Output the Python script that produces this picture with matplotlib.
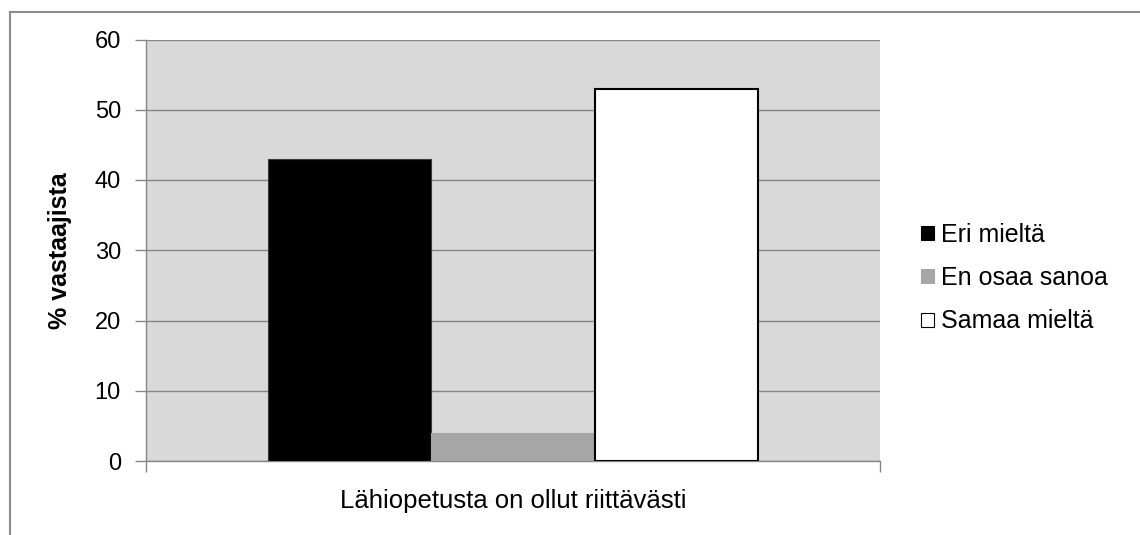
import matplotlib
matplotlib.use("Agg")
import matplotlib.pyplot as plt
from matplotlib.patches import Patch
from matplotlib.lines import Line2D

plt.rcParams['font.family'] = ['Liberation Sans', 'DejaVu Sans']

category = "Lähiopetusta on ollut riittävästi"
series = ["Eri mieltä", "En osaa sanoa", "Samaa mieltä"]
values = [43, 4, 53]
colors = ["#000000", "#a6a6a6", "#ffffff"]
edges = ["#3a3a3a", "#a6a6a6", "#000000"]
ylabel = "% vastaajista"
yticks = [0, 10, 20, 30, 40, 50, 60]

W, H = 1140, 535
fig = plt.figure(figsize=(W / 100, H / 100), dpi=100)
ax = fig.add_axes([146 / W, 1 - 461 / H, (880 - 146) / W, (461 - 39.5) / H])
ax.set_facecolor("#d9d9d9")

offsets = [-1, 0, 1]
for off, v, c, e in zip(offsets, values, colors, edges):
    lw = 1.5 if c == "#ffffff" else 0.8
    ax.bar(off, v, width=1.0, color=c, edgecolor=e, linewidth=lw, zorder=3)

ax.set_xlim(-2.25, 2.25)
ax.set_ylim(0, 60)
ax.set_yticks(yticks)
ax.set_yticklabels([str(t) for t in yticks], fontsize=17)
ax.yaxis.grid(True, color="#868686", linewidth=1.0, zorder=0)
ax.set_axisbelow(True)
ax.set_xticks([-2.25, 2.25])
ax.set_xticklabels(["", ""])
ax.tick_params(axis='both', direction='out', length=8, width=1.0, color="#868686")
ax.tick_params(axis='y', pad=10)
for s in ["top", "right"]:
    ax.spines[s].set_visible(False)
for s in ["left", "bottom"]:
    ax.spines[s].set_color("#868686")
    ax.spines[s].set_linewidth(1.0)

ax.set_ylabel(ylabel, fontsize=18, fontweight='bold')
ax.yaxis.set_label_coords((72 - 146) / (880 - 146), 0.5)
fig.text(513 / W, 1 - 501 / H, category, ha='center', va='center', fontsize=18.5)

handles = [Patch(facecolor=c, edgecolor=("#000000" if c == "#ffffff" else c), linewidth=0.8)
           for c in colors]
leg = fig.legend(handles, series, loc='center left', bbox_to_anchor=(921 / W, 1 - 278 / H),
                 frameon=False, fontsize=18, handlelength=0.5, handleheight=0.5,
                 handletextpad=0.3, labelspacing=0.78, borderpad=0, borderaxespad=0)

# figure border (top and left)
fig.add_artist(Line2D([10.5 / W, 1.0], [1 - 11.5 / H, 1 - 11.5 / H], color="#8c8c8c", linewidth=1.5))
fig.add_artist(Line2D([10.5 / W, 10.5 / W], [0.0, 1 - 11.5 / H], color="#8c8c8c", linewidth=1.5))

fig.savefig("out.png", dpi=100, facecolor="white")
